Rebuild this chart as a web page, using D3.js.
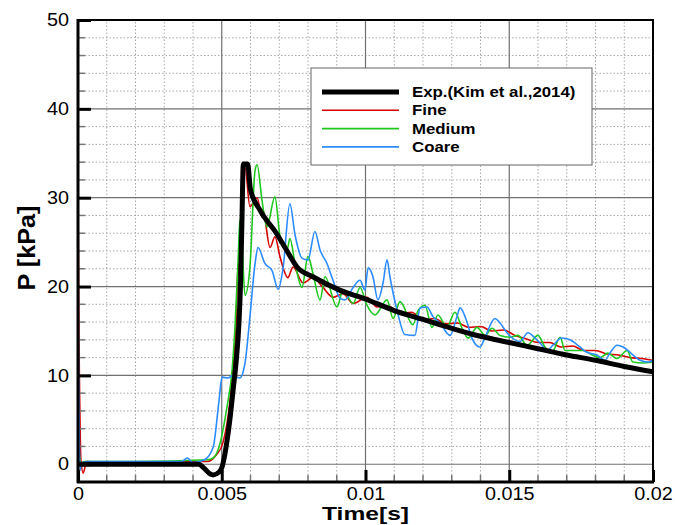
<!DOCTYPE html>
<html>
<head>
<meta charset="utf-8">
<script src="https://cdn.jsdelivr.net/npm/d3@7"></script>
<style>
  body { margin: 0; background: #fff; }
  text { font-family: "Liberation Sans", Arial, sans-serif; }
</style>
</head>
<body>
<div id="chart"></div>
<script>
const width = 675;
const height = 525;
const margin = { top: 20, right: 22, bottom: 43, left: 78 };

// Exp. (Kim et al., 2014)
const expT = [0, 0.0042, 0.0044, 0.0046, 0.0047, 0.0049, 0.0050, 0.0052, 0.0053, 0.0054, 0.0055, 0.0056, 0.00565, 0.0057, 0.00575, 0.0059, 0.0060, 0.00633, 0.0069, 0.00727, 0.00762, 0.00817, 0.0091, 0.010, 0.011, 0.012, 0.013, 0.014, 0.015, 0.016, 0.017, 0.018, 0.019, 0.020];
const expP = [0, 0, -0.5, -1.1, -1.2, -0.9, -0.4, 3, 5.5, 8.5, 11.5, 16, 20, 27, 33.8, 33.8, 30.9, 28.6, 26.0, 24.0, 22.2, 21.1, 19.6, 18.6, 17.3, 16.3, 15.3, 14.4, 13.7, 13.0, 12.3, 11.7, 11.0, 10.4];

// Fine
const fineT = [0, 0.00003, 0.00006, 0.0001, 0.00018, 0.0003, 0.001, 0.002, 0.003, 0.004, 0.0045, 0.0048, 0.00504, 0.00529, 0.00539, 0.0055, 0.00557, 0.00563, 0.00581, 0.00598, 0.00623, 0.0064, 0.00643, 0.00668, 0.00685, 0.00703, 0.0073, 0.00748, 0.00783, 0.00817, 0.00852, 0.00887, 0.00922, 0.00957, 0.01005, 0.0104, 0.0108, 0.0112, 0.0116, 0.012, 0.0124, 0.0128, 0.0132, 0.0136, 0.014, 0.0144, 0.0148, 0.0152, 0.0156, 0.016, 0.0164, 0.0168, 0.0172, 0.0176, 0.018, 0.0184, 0.0188, 0.0192, 0.0196, 0.02];
const fineP = [30.7, 15, 7, 0.5, -1, 0.3, 0.2, 0.2, 0.2, 0.3, 0.3, 1.0, 2.4, 7.2, 10.6, 16, 22.6, 21, 33.4, 29, 30, 27.8, 28.6, 24.4, 25.6, 23.3, 21, 22.2, 20.4, 21, 19.9, 18.8, 19.2, 18.1, 18.8, 17.7, 17.8, 17.0, 17.1, 16.3, 16.4, 15.8, 15.9, 15.4, 15.5, 15.0, 15.1, 14.5, 14.1, 13.7, 13.7, 13.2, 13.3, 12.8, 12.8, 12.4, 12.3, 12.0, 11.9, 11.7];

// Medium
const mediumT = [0, 0.00005, 0.0001, 0.0002, 0.002, 0.0045, 0.0047, 0.00487, 0.00518, 0.00536, 0.00546, 0.00557, 0.00563, 0.0057, 0.00581, 0.00598, 0.00616, 0.00623, 0.0064, 0.00657, 0.00685, 0.00703, 0.00727, 0.00737, 0.00755, 0.00779, 0.008, 0.00817, 0.00842, 0.00859, 0.00901, 0.00922, 0.00957, 0.00981, 0.01005, 0.01033, 0.01075, 0.01096, 0.0112, 0.01165, 0.01183, 0.01207, 0.01231, 0.01252, 0.01283, 0.01311, 0.01336, 0.01357, 0.01388, 0.01416, 0.0144, 0.01468, 0.01503, 0.0153, 0.01562, 0.016, 0.01624, 0.01649, 0.01677, 0.01694, 0.01722, 0.01757, 0.01788, 0.01816, 0.01843, 0.01875, 0.0191, 0.0193, 0.01965, 0.02];
const mediumP = [5, 1, 0, 0.3, 0.3, 0.5, 0.7, 1.6, 6.4, 10.6, 15.4, 23, 27.5, 25, 19.0, 22.2, 33.1, 33.7, 29.7, 26.7, 30.1, 25.6, 24.1, 25.4, 22.6, 19.9, 23.4, 21.5, 18.5, 21.1, 17.7, 19.6, 18.1, 19.9, 17.9, 16.8, 18.5, 16.4, 18.3, 15.7, 17.3, 17.9, 15.4, 16.8, 15.4, 17.1, 15.3, 14.2, 15.4, 14.5, 15.3, 14.5, 14.3, 14.5, 13.4, 14.5, 13.2, 12.6, 14.3, 12.8, 12.8, 12.8, 12.3, 12.0, 12.5, 11.9, 12.8, 11.5, 11.4, 11.5];

// Coare
const coareT = [0, 0.00003, 0.00007, 0.00012, 0.0003, 0.002, 0.0036, 0.0038, 0.004, 0.0044, 0.0047, 0.0049, 0.00501, 0.00522, 0.00539, 0.00563, 0.00581, 0.00598, 0.00616, 0.00626, 0.0065, 0.00675, 0.00696, 0.00713, 0.00737, 0.00755, 0.00779, 0.008, 0.00824, 0.00842, 0.00866, 0.00887, 0.00911, 0.00929, 0.00957, 0.00981, 0.00998, 0.01009, 0.01026, 0.01043, 0.01061, 0.01075, 0.01085, 0.0111, 0.01137, 0.01172, 0.0119, 0.01214, 0.01235, 0.01259, 0.01294, 0.01318, 0.01329, 0.01353, 0.0137, 0.01398, 0.01416, 0.0145, 0.01468, 0.01492, 0.01537, 0.01565, 0.0159, 0.01614, 0.01631, 0.01652, 0.01683, 0.01711, 0.01746, 0.0177, 0.01805, 0.01833, 0.0185, 0.01875, 0.01896, 0.0192, 0.01955, 0.01983, 0.02];
const coareP = [20, 8, -0.7, 0, 0.3, 0.3, 0.3, 0.7, 0.2, 0.5, 1.9, 7, 9.8, 9.7, 10, 9.7, 11.4, 16.6, 22.6, 24.4, 22.6, 21.8, 19.7, 22.0, 29.3, 25.8, 23.2, 23.0, 26.2, 24.1, 22.6, 20.7, 18.7, 18.5, 19.9, 20.7, 19.6, 22.1, 21.1, 18.5, 20.4, 23, 21.1, 17.3, 14.6, 14.5, 17.6, 17.7, 16.6, 15.9, 14.5, 16.6, 17.6, 16, 14.2, 13.2, 14.3, 16.4, 15.9, 14.8, 13.8, 14.8, 14.2, 13.4, 12.8, 13.4, 14.2, 14.0, 13.2, 12.6, 12.3, 11.7, 12.5, 13.4, 13.2, 12.6, 11.7, 11.5, 11.7];

const xTicks = [0, 0.005, 0.01, 0.015, 0.02];
const yTicks = [0, 10, 20, 30, 40, 50];

const series = [
  { name: "Exp.(Kim et al.,2014)", t: expT, p: expP, color: "#000000", w: 5 },
  { name: "Fine", t: fineT, p: fineP, color: "#d40000", w: 1.6 },
  { name: "Medium", t: mediumT, p: mediumP, color: "#1ec81e", w: 1.6 },
  { name: "Coare", t: coareT, p: coareP, color: "#2b8cff", w: 1.6 }
];

// the original picture is a bit wider than tall, so text is stretched sideways
function stretch(sel, k) {
  sel.each(function () {
    const len = this.getComputedTextLength();
    d3.select(this).attr("textLength", len * k).attr("lengthAdjust", "spacingAndGlyphs");
  });
}

const svg = d3.select("#chart")
  .append("svg")
  .attr("width", width)
  .attr("height", height);

const x = d3.scaleLinear().domain([0, 0.02]).range([margin.left, width - margin.right]);
const y = d3.scaleLinear().domain([-2, 50]).range([height - margin.bottom, margin.top]);

const x0 = x.range()[0], x1 = x.range()[1];
const y0 = y.range()[0], y1 = y.range()[1];

// minor grid (dotted)
const xMinor = d3.range(1, 20).map(i => i * 0.001).filter(v => !xTicks.some(t => Math.abs(t - v) < 1e-9));
const yMinor = d3.range(-2, 50, 2).filter(v => v % 10 !== 0 && v > -2);

const grid = svg.append("g");
grid.selectAll(".xm").data(xMinor).enter().append("line")
  .attr("x1", d => x(d)).attr("x2", d => x(d))
  .attr("y1", y0).attr("y2", y1)
  .attr("stroke", "#a8a8a8").attr("stroke-width", 1).attr("stroke-dasharray", "1.5,2");
grid.selectAll(".ym").data(yMinor).enter().append("line")
  .attr("x1", x0).attr("x2", x1)
  .attr("y1", d => y(d)).attr("y2", d => y(d))
  .attr("stroke", "#a8a8a8").attr("stroke-width", 1).attr("stroke-dasharray", "1.5,2");

// major grid
grid.selectAll(".xM").data(xTicks.slice(1, -1)).enter().append("line")
  .attr("x1", d => x(d)).attr("x2", d => x(d))
  .attr("y1", y0).attr("y2", y1)
  .attr("stroke", "#707070").attr("stroke-width", 1.2);
grid.selectAll(".yM").data(yTicks.slice(0, -1)).enter().append("line")
  .attr("x1", x0).attr("x2", x1)
  .attr("y1", d => y(d)).attr("y2", d => y(d))
  .attr("stroke", "#707070").attr("stroke-width", 1.2);

// curves
svg.append("clipPath").attr("id", "clip")
  .append("rect").attr("x", x0).attr("y", y1).attr("width", x1 - x0).attr("height", y0 - y1);

const line = d3.line()
  .x(d => x(d[0]))
  .y(d => y(d[1]))
  .curve(d3.curveMonotoneX);

const curves = svg.append("g").attr("clip-path", "url(#clip)");
series.slice(1).concat(series.slice(0, 1)).forEach(s => {
  curves.append("path")
    .datum(s.t.map((t, i) => [t, s.p[i]]))
    .attr("d", line)
    .attr("fill", "none")
    .attr("stroke", s.color)
    .attr("stroke-width", s.w)
    .attr("stroke-linejoin", "round");
});

// minor ticks
svg.append("g").selectAll("line").data(yMinor).enter().append("line")
  .attr("x1", x0).attr("x2", x0 + 7)
  .attr("y1", d => y(d)).attr("y2", d => y(d))
  .attr("stroke", "#777").attr("stroke-width", 1.5);
svg.append("g").selectAll("line").data(xMinor).enter().append("line")
  .attr("x1", d => x(d)).attr("x2", d => x(d))
  .attr("y1", y0).attr("y2", y0 - 7)
  .attr("stroke", "#777").attr("stroke-width", 1.5);

// frame
svg.append("rect")
  .attr("x", x0).attr("y", y1).attr("width", x1 - x0).attr("height", y0 - y1)
  .attr("fill", "none").attr("stroke", "#000").attr("stroke-width", 2);
svg.append("line").attr("x1", x0).attr("x2", x0).attr("y1", y1 - 1).attr("y2", y0 + 1)
  .attr("stroke", "#000").attr("stroke-width", 3);
svg.append("line").attr("x1", x0 - 1).attr("x2", x1 + 1).attr("y1", y0).attr("y2", y0)
  .attr("stroke", "#000").attr("stroke-width", 3);

// axes (inward major ticks)
const yAxis = d3.axisLeft(y).tickValues(yTicks).tickSize(-13).tickPadding(9).tickFormat(d3.format("d"));
const xAxis = d3.axisBottom(x).tickValues(xTicks).tickSize(-12).tickPadding(5).tickFormat(d => d === 0 ? "0" : String(+d.toFixed(3)));

svg.append("g").attr("transform", `translate(${x0},0)`).call(yAxis)
  .call(g => g.select(".domain").remove())
  .call(g => g.selectAll(".tick line").attr("stroke", "#000").attr("stroke-width", 3))
  .call(g => g.selectAll(".tick text").attr("font-size", 18).attr("fill", "#000")
    .attr("font-family", "Liberation Sans, Arial, sans-serif").call(stretch, 1.1));

svg.append("g").attr("transform", `translate(0,${y0})`).call(xAxis)
  .call(g => g.select(".domain").remove())
  .call(g => g.selectAll(".tick line").attr("stroke", "#000").attr("stroke-width", 3))
  .call(g => g.selectAll(".tick text").attr("font-size", 18).attr("fill", "#000")
    .attr("font-family", "Liberation Sans, Arial, sans-serif").call(stretch, 1.1));

// axis titles
svg.append("text")
  .attr("x", (x0 + x1) / 2).attr("y", 520)
  .attr("text-anchor", "middle")
  .attr("font-size", 18).attr("font-weight", "bold")
  .text("Time[s]")
  .attr("textLength", 87).attr("lengthAdjust", "spacingAndGlyphs");

svg.append("text")
  .attr("transform", `translate(35,248) rotate(-90)`)
  .attr("text-anchor", "middle")
  .attr("font-size", 24).attr("font-weight", "bold")
  .text("P [kPa]")
  .attr("textLength", 85).attr("lengthAdjust", "spacingAndGlyphs");

// legend
const legend = svg.append("g");
legend.append("rect")
  .attr("x", 311).attr("y", 68).attr("width", 281).attr("height", 97)
  .attr("fill", "#fff").attr("stroke", "#666").attr("stroke-width", 1);

series.forEach((s, i) => {
  const ly = 92 + i * 18.3;
  legend.append("line")
    .attr("x1", 322).attr("x2", 399).attr("y1", ly).attr("y2", ly)
    .attr("stroke", s.color).attr("stroke-width", i === 0 ? 5 : 1.6);
  legend.append("text")
    .attr("x", 412).attr("y", ly + 5)
    .attr("font-size", 14).attr("font-weight", "bold")
    .text(s.name)
    .call(stretch, 1.2);
});
</script>
</body>
</html>
